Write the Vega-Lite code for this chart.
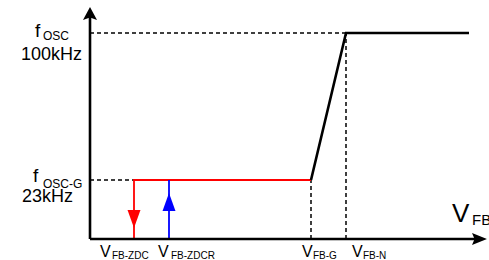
{
  "$schema": "https://vega.github.io/schema/vega-lite/v6.json",
  "width": 489,
  "height": 260,
  "padding": 0,
  "autosize": {"type": "none"},
  "background": "white",
  "config": {"view": {"stroke": null}},
  "resolve": {"scale": {"color": "independent", "shape": "independent"}},
  "datasets": {
    "axes": [
      {"x": 0, "y": 0, "x2": 390, "y2": 0},
      {"x": 0, "y": 0, "x2": 0, "y2": 226}
    ],
    "dashes": [
      {"x": 0, "y": 206, "x2": 256, "y2": 206},
      {"x": 0, "y": 59, "x2": 44, "y2": 59},
      {"x": 221, "y": 0, "x2": 221, "y2": 59},
      {"x": 256, "y": 0, "x2": 256, "y2": 206}
    ],
    "curve": [
      {"x": 221, "y": 59, "o": 1},
      {"x": 256, "y": 206, "o": 2},
      {"x": 379, "y": 206, "o": 3}
    ],
    "hyst": [
      {"s": "down", "x": 44, "y": 0, "o": 1},
      {"s": "down", "x": 44, "y": 59, "o": 2},
      {"s": "down", "x": 221, "y": 59, "o": 3},
      {"s": "up", "x": 79, "y": 0, "o": 1},
      {"s": "up", "x": 79, "y": 59, "o": 2}
    ],
    "heads": [
      {"k": "yaxis", "x": 0, "y": 225.5},
      {"k": "xaxis", "x": 389.5, "y": 0},
      {"k": "down", "x": 44, "y": 20},
      {"k": "up", "x": 79, "y": 37}
    ],
    "vmain": [
      {"x": 10, "y": -17.5, "t": "V"},
      {"x": 68, "y": -17.5, "t": "V"},
      {"x": 212, "y": -17.5, "t": "V"},
      {"x": 262, "y": -17.5, "t": "V"}
    ],
    "vsub": [
      {"x": 22, "y": -19.5, "t": "FB-ZDC"},
      {"x": 81, "y": -19.5, "t": "FB-ZDCR"},
      {"x": 223, "y": -19.5, "t": "FB-G"},
      {"x": 273, "y": -19.5, "t": "FB-N"}
    ],
    "fmain": [
      {"x": -55, "y": 202, "t": "f"},
      {"x": -57, "y": 57, "t": "f"}
    ],
    "fsub": [
      {"x": -47, "y": 199, "t": "OSC"},
      {"x": -47, "y": 51, "t": "OSC-G"}
    ],
    "freq": [
      {"x": -8, "y": 179, "t": "100kHz"},
      {"x": -17, "y": 37, "t": "23kHz"}
    ],
    "bigv": [{"x": 362, "y": 17, "t": "V"}],
    "bigsub": [{"x": 382, "y": 14, "t": "FB"}]
  },
  "encoding": {
    "x": {"field": "x", "type": "quantitative", "scale": {"domain": [-90, 399], "nice": false, "zero": false}, "axis": null},
    "y": {"field": "y", "type": "quantitative", "scale": {"domain": [-21, 239], "nice": false, "zero": false}, "axis": null}
  },
  "layer": [
    {
      "data": {"name": "dashes"},
      "mark": {"type": "rule", "color": "black", "strokeWidth": 1.5, "strokeDash": [4, 3]},
      "encoding": {"x2": {"field": "x2"}, "y2": {"field": "y2"}}
    },
    {
      "data": {"name": "hyst"},
      "mark": {"type": "line", "strokeWidth": 1.8, "interpolate": "linear"},
      "encoding": {
        "color": {"field": "s", "type": "nominal", "scale": {"domain": ["down", "up"], "range": ["#ff0000", "#0000ff"]}, "legend": null},
        "order": {"field": "o", "type": "quantitative"}
      }
    },
    {
      "data": {"name": "curve"},
      "mark": {"type": "line", "color": "black", "strokeWidth": 2.6},
      "encoding": {"order": {"field": "o", "type": "quantitative"}}
    },
    {
      "data": {"name": "axes"},
      "mark": {"type": "rule", "color": "black", "strokeWidth": 2.6},
      "encoding": {"x2": {"field": "x2"}, "y2": {"field": "y2"}}
    },
    {
      "data": {"name": "heads"},
      "mark": {"type": "point", "filled": true, "opacity": 1, "size": 324, "strokeWidth": 0},
      "encoding": {
        "shape": {"field": "k", "type": "nominal", "scale": {"domain": ["yaxis", "xaxis", "down", "up"], "range": ["M0,-0.72L0.78,0.72L0,0.45L-0.78,0.72Z", "M0.83,0L-0.83,-0.67L-0.55,0L-0.83,0.67Z", "M-0.72,-1L0.72,-1L0,1Z", "M0,-1L0.72,1L-0.72,1Z"]}, "legend": null},
        "color": {"field": "k", "type": "nominal", "scale": {"domain": ["yaxis", "xaxis", "down", "up"], "range": ["#000000", "#000000", "#ff0000", "#0000ff"]}, "legend": null}
      }
    },
    {
      "data": {"name": "vmain"},
      "mark": {"type": "text", "align": "left", "baseline": "alphabetic", "font": "Liberation Sans", "fontSize": 16, "color": "black"},
      "encoding": {"text": {"field": "t"}}
    },
    {
      "data": {"name": "vsub"},
      "mark": {"type": "text", "align": "left", "baseline": "alphabetic", "font": "Liberation Sans", "fontSize": 10, "color": "black"},
      "encoding": {"text": {"field": "t"}}
    },
    {
      "data": {"name": "fmain"},
      "mark": {"type": "text", "align": "left", "baseline": "alphabetic", "font": "Liberation Sans", "fontSize": 19, "color": "black"},
      "encoding": {"text": {"field": "t"}}
    },
    {
      "data": {"name": "fsub"},
      "mark": {"type": "text", "align": "left", "baseline": "alphabetic", "font": "Liberation Sans", "fontSize": 12, "color": "black"},
      "encoding": {"text": {"field": "t"}}
    },
    {
      "data": {"name": "freq"},
      "mark": {"type": "text", "align": "right", "baseline": "alphabetic", "font": "Liberation Sans", "fontSize": 18, "color": "black"},
      "encoding": {"text": {"field": "t"}}
    },
    {
      "data": {"name": "bigv"},
      "mark": {"type": "text", "align": "left", "baseline": "alphabetic", "font": "Liberation Sans", "fontSize": 26, "color": "black"},
      "encoding": {"text": {"field": "t"}}
    },
    {
      "data": {"name": "bigsub"},
      "mark": {"type": "text", "align": "left", "baseline": "alphabetic", "font": "Liberation Sans", "fontSize": 15, "color": "black"},
      "encoding": {"text": {"field": "t"}}
    }
  ]
}
